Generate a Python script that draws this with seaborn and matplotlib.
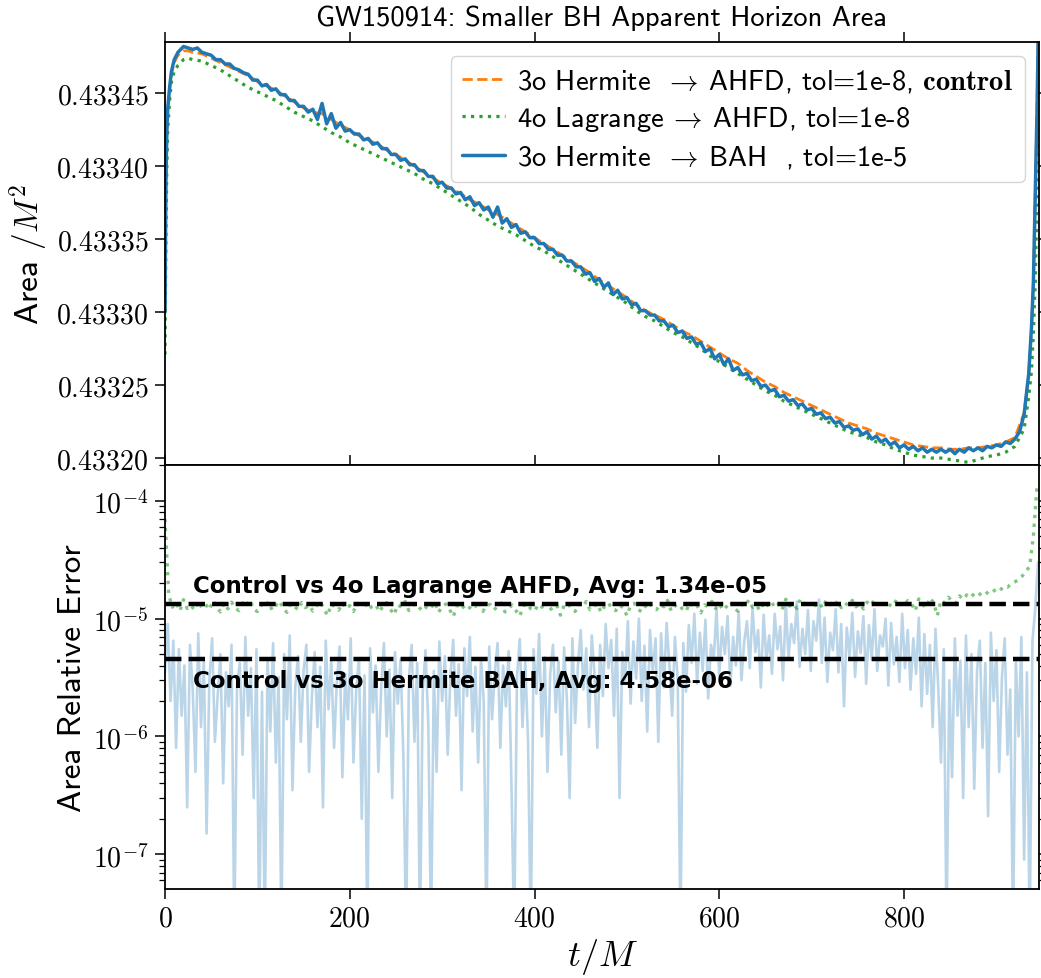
import numpy as np
import matplotlib
matplotlib.use("Agg")
import matplotlib.pyplot as plt
from matplotlib.ticker import NullFormatter
import seaborn as sns

# ------------------------------------------------------------------ data
title = "GW150914: Smaller BH Apparent Horizon Area"
labels = [
    r"3o Hermite  $\!\rightarrow\!$ AHFD, tol=1e-8, $\mathbf{control}$",
    r"4o Lagrange $\!\rightarrow\!$ AHFD, tol=1e-8",
    r"3o Hermite  $\!\rightarrow\!$ BAH  , tol=1e-5",
]

t_start = [0, 1, 2, 3, 5, 7, 10, 14, 20, 25]
t_end = [935, 938, 940, 942, 944, 946]
t_ctrl = t_start + list(range(30, 931, 10)) + t_end
t_bah = t_start + list(range(30, 931, 5)) + t_end

area_ctrl = [
    0.433300, 0.433385, 0.433422, 0.433438, 0.433452, 0.433463, 0.433471, 0.433476, 0.433479, 0.433479,
    0.433478, 0.433477, 0.433474, 0.433471, 0.433468, 0.433465, 0.433462, 0.433458, 0.433455, 0.433452,
    0.433448, 0.433444, 0.433440, 0.433437, 0.433436, 0.433432, 0.433428, 0.433425, 0.433421, 0.433418,
    0.433415, 0.433411, 0.433408, 0.433404, 0.433400, 0.433396, 0.433392, 0.433388, 0.433385, 0.433381,
    0.433377, 0.433374, 0.433370, 0.433367, 0.433363, 0.433359, 0.433355, 0.433351, 0.433347, 0.433343,
    0.433339, 0.433335, 0.433331, 0.433327, 0.433322, 0.433318, 0.433314, 0.433310, 0.433305, 0.433301,
    0.433298, 0.433295, 0.433291, 0.433287, 0.433284, 0.433280, 0.433276, 0.433272, 0.433268, 0.433265,
    0.433260, 0.433256, 0.433252, 0.433249, 0.433245, 0.433242, 0.433239, 0.433236, 0.433233, 0.433230,
    0.433227, 0.433224, 0.433222, 0.433220, 0.433217, 0.433215, 0.433213, 0.433211, 0.433209, 0.433208,
    0.433207, 0.433207, 0.433206, 0.433206, 0.433207, 0.433207, 0.433208, 0.433209, 0.433211, 0.433214, 0.433231,
    0.433258, 0.433290, 0.433320, 0.433380, 0.433440, 0.433520,
]

area_lag = [
    0.433271, 0.433350, 0.433400, 0.433425, 0.433445, 0.433458, 0.433465, 0.433469, 0.433473, 0.433474,
    0.433473, 0.433472, 0.433469, 0.433466, 0.433462, 0.433458, 0.433454, 0.433451, 0.433448, 0.433445,
    0.433441, 0.433437, 0.433434, 0.433431, 0.433427, 0.433423, 0.433420, 0.433416, 0.433413, 0.433410,
    0.433407, 0.433404, 0.433401, 0.433398, 0.433395, 0.433391, 0.433388, 0.433384, 0.433380, 0.433376,
    0.433372, 0.433367, 0.433363, 0.433359, 0.433356, 0.433353, 0.433349, 0.433345, 0.433342, 0.433338,
    0.433334, 0.433330, 0.433326, 0.433322, 0.433318, 0.433314, 0.433310, 0.433306, 0.433301, 0.433297,
    0.433294, 0.433290, 0.433286, 0.433283, 0.433279, 0.433275, 0.433270, 0.433266, 0.433262, 0.433258,
    0.433254, 0.433250, 0.433246, 0.433243, 0.433239, 0.433236, 0.433233, 0.433230, 0.433227, 0.433224,
    0.433221, 0.433218, 0.433216, 0.433214, 0.433211, 0.433209, 0.433206, 0.433204, 0.433202, 0.433201,
    0.433200, 0.433200, 0.433199, 0.433198, 0.433197, 0.433199, 0.433201, 0.433202, 0.433204, 0.433208, 0.433220,
    0.433242, 0.433260, 0.433285, 0.433320, 0.433380, 0.433460,
]

area_bah = [
    0.433300, 0.433390, 0.433425, 0.433440, 0.433454, 0.433465, 0.433473, 0.433478, 0.433482, 0.433481,
    0.433480, 0.433481, 0.433478, 0.433477, 0.433476, 0.433473, 0.433473, 0.433470, 0.433470, 0.433467,
    0.433466, 0.433464, 0.433463, 0.433459, 0.433459, 0.433455, 0.433456, 0.433452, 0.433453, 0.433449,
    0.433449, 0.433445, 0.433445, 0.433441, 0.433441, 0.433437, 0.433439, 0.433432, 0.433443, 0.433429,
    0.433436, 0.433426, 0.433430, 0.433424, 0.433425, 0.433422, 0.433422, 0.433418, 0.433419, 0.433415,
    0.433416, 0.433412, 0.433412, 0.433408, 0.433408, 0.433404, 0.433405, 0.433401, 0.433401, 0.433397,
    0.433397, 0.433393, 0.433393, 0.433388, 0.433389, 0.433385, 0.433385, 0.433381, 0.433382, 0.433377,
    0.433379, 0.433373, 0.433375, 0.433370, 0.433372, 0.433365, 0.433372, 0.433361, 0.433364, 0.433358,
    0.433360, 0.433354, 0.433355, 0.433351, 0.433351, 0.433347, 0.433347, 0.433343, 0.433343, 0.433339,
    0.433339, 0.433335, 0.433335, 0.433331, 0.433331, 0.433326, 0.433327, 0.433321, 0.433323, 0.433317,
    0.433320, 0.433312, 0.433315, 0.433309, 0.433310, 0.433305, 0.433306, 0.433301, 0.433301, 0.433298,
    0.433298, 0.433294, 0.433294, 0.433290, 0.433291, 0.433286, 0.433287, 0.433282, 0.433283, 0.433278,
    0.433279, 0.433273, 0.433275, 0.433268, 0.433271, 0.433264, 0.433268, 0.433260, 0.433262, 0.433257,
    0.433258, 0.433253, 0.433254, 0.433249, 0.433250, 0.433246, 0.433247, 0.433242, 0.433243, 0.433239,
    0.433240, 0.433236, 0.433237, 0.433233, 0.433234, 0.433230, 0.433231, 0.433227, 0.433228, 0.433224,
    0.433225, 0.433221, 0.433222, 0.433219, 0.433220, 0.433216, 0.433218, 0.433213, 0.433215, 0.433211,
    0.433213, 0.433209, 0.433211, 0.433207, 0.433209, 0.433206, 0.433208, 0.433205, 0.433207, 0.433204,
    0.433206, 0.433204, 0.433206, 0.433204, 0.433206, 0.433203, 0.433206, 0.433204, 0.433207, 0.433205,
    0.433207, 0.433205, 0.433208, 0.433207, 0.433209, 0.433208, 0.433211, 0.433210, 0.433213, 0.433218,
    0.433230,
    0.433258, 0.433290, 0.433320, 0.433380, 0.433440, 0.433520,
]

# relative errors, in units of 1e-6
t_err_lag = list(range(0, 945, 4))
err_lag_micro = [
    70, 16, 12.5, 13.8, 11.6, 14.5, 12.2, 13.0, 11.8, 14.0,
    12.4, 13.2, 11.9, 14.2, 12.6, 11.4, 13.5, 12.1, 13.8, 12.3,
    11.7, 13.6, 12.8, 14.4, 12.0, 11.5, 13.1, 12.5, 13.9, 11.8,
    12.9, 14.1, 12.2, 11.3, 13.4, 12.7, 11.9, 13.7, 12.4, 13.0,
    11.6, 12.8, 14.0, 12.1, 10.6, 13.3, 12.6, 11.8, 13.6, 12.2,
    12.9, 11.5, 13.5, 12.3, 14.2, 11.9, 12.7, 13.2, 11.4, 12.8,
    13.7, 12.0, 10.8, 13.1, 12.5, 14.0, 11.7, 12.9, 13.4, 12.2,
    11.6, 13.0, 12.4, 13.8, 11.3, 12.6, 13.3, 12.0, 10.4, 12.8,
    13.5, 12.2, 11.8, 13.1, 12.7, 14.1, 11.5, 12.9, 13.2, 11.9,
    12.6, 13.6, 11.4, 12.3, 13.0, 11.7, 10.5, 12.8, 13.4, 12.1,
    11.6, 13.2, 12.5, 13.9, 11.8, 12.4, 13.1, 10.7, 12.9, 13.5,
    12.2, 11.5, 13.3, 12.6, 14.0, 11.9, 12.7, 13.4, 11.3, 12.8,
    13.6, 12.1, 11.7, 13.0, 12.4, 10.6, 12.9, 13.5, 12.0, 11.4,
    12.7, 13.8, 12.3, 11.9, 13.2, 12.6, 14.3, 11.6, 12.8, 13.3,
    12.1, 11.5, 13.7, 12.4, 12.9, 11.2, 13.1, 12.6, 14.0, 12.2,
    13.4, 11.8, 12.7, 13.9, 12.3, 11.6, 13.2, 12.8, 14.4, 12.5,
    13.0, 11.7, 13.6, 12.9, 14.2, 12.4, 13.3, 11.9, 14.6, 12.8,
    13.5, 12.2, 14.8, 13.1, 12.6, 14.0, 12.9, 13.7, 12.3, 14.5,
    13.2, 12.7, 14.1, 12.4, 13.6, 12.9, 14.3, 12.6, 13.4, 12.1,
    13.8, 12.9, 14.5, 13.3, 12.5, 14.0, 13.1, 12.7, 14.6, 13.4,
    12.8, 14.2, 13.5, 11.6, 14.7, 13.2, 12.4, 15.0, 13.7, 10.6,
    14.3, 13.6, 15.2, 14.0, 13.5, 15.6, 14.6, 15.9, 15.1, 16.3,
    15.6, 16.6, 16.0, 17.2, 16.8, 18.0, 17.4, 18.8, 18.5, 19.8,
    20.5, 21.5, 23.0, 25.0, 28.0, 50.0, 136.0,
]

t_err_bah = list(range(0, 946, 3))
err_bah_micro = [
    3.5, 9.0, 2.0, 6.5, 0.8, 5.5, 1.5, 4.0, 0.25, 6.0,
    2.5, 0.5, 7.5, 1.2, 4.5, 0.15, 3.0, 6.8, 0.9, 2.2,
    5.0, 0.4, 3.5, 1.8, 6.0, 0.02, 2.8, 4.2, 0.7, 7.0,
    1.5, 3.8, 0.3, 5.5, 0.02, 2.4, 0.02, 4.6, 1.1, 6.2,
    0.6, 3.2, 0.02, 5.0, 1.4, 7.2, 0.35, 2.6, 4.8, 0.9,
    3.6, 6.0, 0.5, 2.2, 5.2, 1.2, 3.9, 0.25, 6.5, 1.7,
    4.4, 0.8, 2.9, 5.8, 0.45, 3.4, 1.4, 6.8, 0.6, 2.5,
    4.6, 0.2, 3.3, 0.02, 5.6, 1.6, 4.0, 0.5, 2.6, 6.2,
    1.0, 3.7, 0.3, 5.2, 1.9, 4.5, 0.7, 0.02, 3.1, 6.0,
    0.9, 4.2, 0.02, 2.4, 5.4, 1.3, 0.02, 3.6, 0.5, 6.4,
    2.0, 4.8, 0.7, 3.3, 6.6, 1.5, 4.1, 0.35, 5.6, 2.2,
    7.0, 1.1, 3.9, 0.6, 4.6, 2.0, 0.02, 5.8, 1.4, 3.5,
    6.2, 0.8, 4.0, 1.8, 5.3, 0.4, 0.02, 3.2, 6.7, 1.2,
    4.3, 0.9, 0.02, 5.5, 2.3, 7.4, 1.0, 4.7, 0.5, 3.4,
    6.0, 1.6, 4.4, 0.7, 5.7, 2.1, 0.3, 6.8, 1.3, 4.0,
    8.0, 2.5, 5.6, 1.2, 7.2, 3.3, 0.8, 6.0, 2.2, 9.0,
    3.8, 6.6, 1.5, 8.2, 0.3, 5.2, 2.8, 9.5, 1.9, 6.4,
    3.1, 10.0, 2.0, 5.9, 1.1, 8.0, 3.5, 6.8, 0.9, 7.5,
    2.6, 9.2, 4.0, 1.5, 7.0, 3.0, 0.02, 6.2, 2.4, 8.8,
    4.2, 11.0, 2.8, 7.6, 3.6, 9.8, 2.1, 6.0, 4.5, 12.0,
    3.3, 8.5, 5.0, 10.5, 2.7, 7.0, 4.0, 11.5, 3.0, 6.4,
    9.5, 3.8, 12.5, 5.2, 8.0, 2.6, 10.8, 4.4, 7.2, 3.4,
    11.0, 5.5, 8.6, 3.0, 13.5, 4.6, 9.0, 6.2, 14.0, 3.9,
    8.2, 5.0, 11.8, 3.6, 9.5, 6.5, 14.5, 4.2, 10.2, 2.9,
    7.6, 5.4, 12.0, 3.5, 9.0, 1.8, 8.4, 4.8, 11.2, 3.2,
    7.8, 5.1, 10.5, 2.8, 8.8, 4.5, 12.0, 3.6, 7.2, 5.8,
    10.0, 2.7, 9.2, 4.1, 7.0, 2.9, 11.0, 3.8, 8.0, 2.5,
    6.8, 3.4, 10.2, 1.8, 7.4, 2.3, 6.0, 1.2, 8.2, 2.6,
    0.6, 5.5, 0.02, 3.0, 0.45, 6.8, 1.5, 4.4, 0.3, 7.2,
    1.2, 5.0, 0.36, 3.6, 6.5, 0.8, 4.2, 0.21, 7.6, 2.0,
    5.4, 0.5, 3.2, 6.8, 0.7, 2.5, 0.02, 4.6, 1.0, 7.0,
    0.09, 3.5, 0.02, 6.5, 12.0, 30.0,
]

avg_lag = 1.34e-05
avg_bah = 4.58e-06
note_lag = "Control vs 4o Lagrange AHFD, Avg: 1.34e-05"
note_bah = "Control vs 3o Hermite BAH, Avg: 4.58e-06"

x_ticks = [0, 200, 400, 600, 800]
x_tick_labels = [r"$0$", r"$200$", r"$400$", r"$600$", r"$800$"]
area_ticks = [0.43320, 0.43325, 0.43330, 0.43335, 0.43340, 0.43345]
area_tick_labels = [r"$0.43320$", r"$0.43325$", r"$0.43330$", r"$0.43335$", r"$0.43340$", r"$0.43345$"]
err_ticks = [1e-7, 1e-6, 1e-5, 1e-4]
err_tick_labels = [r"$10^{-7}$", r"$10^{-6}$", r"$10^{-5}$", r"$10^{-4}$"]

# ------------------------------------------------------------------ style
sns.set_theme(style="ticks")
plt.rcParams.update({
    "font.family": ["cmss10", "DejaVu Sans"],
    "mathtext.fontset": "cm",
    "axes.unicode_minus": False,
    "axes.edgecolor": "black",
    "axes.linewidth": 1.3,
    "xtick.color": "black",
    "ytick.color": "black",
    "text.color": "black",
    "axes.labelcolor": "black",
})

C_ORANGE = "#ff7f0e"
C_GREEN = "#2ca02c"
C_BLUE = "#1f77b4"

fig = plt.figure(figsize=(10.41, 9.79), dpi=100)
gs = fig.add_gridspec(2, 1, left=0.1585, right=0.998, top=0.9564, bottom=0.0909, hspace=0)
ax1 = fig.add_subplot(gs[0])
ax2 = fig.add_subplot(gs[1], sharex=ax1)

# ---- top panel
sns.lineplot(x=t_ctrl, y=area_ctrl, ax=ax1, color=C_ORANGE, linestyle="--", lw=2.0,
             label=labels[0], estimator=None, sort=False)
sns.lineplot(x=t_ctrl, y=area_lag, ax=ax1, color=C_GREEN, linestyle=":", lw=2.3,
             label=labels[1], estimator=None, sort=False)
sns.lineplot(x=t_bah, y=area_bah, ax=ax1, color=C_BLUE, linestyle="-", lw=2.5,
             label=labels[2], estimator=None, sort=False)
ax1.set_xlim(0, 946)
ax1.set_ylim(0.433195, 0.4334853)
ax1.set_yticks(area_ticks, labels=area_tick_labels)
ax1.set_ylabel(r"Area $/M^2$", fontsize=24)
ax1.set_title(title, fontsize=20.5, pad=12)
ax1.tick_params(axis="both", which="both", direction="out", top=True, bottom=False,
                right=True, labelbottom=False, labelsize=20, length=7, width=1.1, pad=5)
ax1.legend(loc="upper right", fontsize=20.5, handlelength=1.5, handletextpad=0.45,
           labelspacing=0.35, borderpad=0.4, framealpha=0.8, edgecolor="0.8", fancybox=True)

# ---- bottom panel
sns.lineplot(x=t_err_lag, y=np.array(err_lag_micro) * 1e-6, ax=ax2, color=C_GREEN,
             linestyle=":", lw=2.4, alpha=0.6, estimator=None, sort=False)
sns.lineplot(x=t_err_bah, y=np.array(err_bah_micro) * 1e-6, ax=ax2, color=C_BLUE,
             linestyle="-", lw=1.9, alpha=0.3, estimator=None, sort=False)
ax2.set_yscale("log")
ax2.axhline(avg_lag, color="black", linestyle="--", lw=3.2)
ax2.axhline(avg_bah, color="black", linestyle="--", lw=3.2)
ax2.text(30, 1.69e-5, note_lag, fontfamily="DejaVu Sans", fontweight="bold", fontsize=16.5)
ax2.text(30, 2.64e-6, note_bah, fontfamily="DejaVu Sans", fontweight="bold", fontsize=16.5)
ax2.set_ylim(5.07e-8, 2.0e-4)
ax2.set_xlim(0, 946)
ax2.set_yticks(err_ticks, labels=err_tick_labels)
ax2.yaxis.set_minor_formatter(NullFormatter())
ax2.set_xticks(x_ticks, labels=x_tick_labels)
ax2.set_ylabel("Area Relative Error", fontsize=24)
ax2.set_xlabel(r"$t/M$", fontsize=26)
ax2.tick_params(axis="both", which="major", direction="out", top=True, bottom=True,
                right=True, labelsize=20, length=7, width=1.1, pad=5)
ax2.tick_params(axis="y", which="minor", direction="out", left=True, right=True,
                length=4, width=0.9)
if ax2.get_legend() is not None:
    ax2.get_legend().remove()

fig.savefig("out.png", dpi=100)
